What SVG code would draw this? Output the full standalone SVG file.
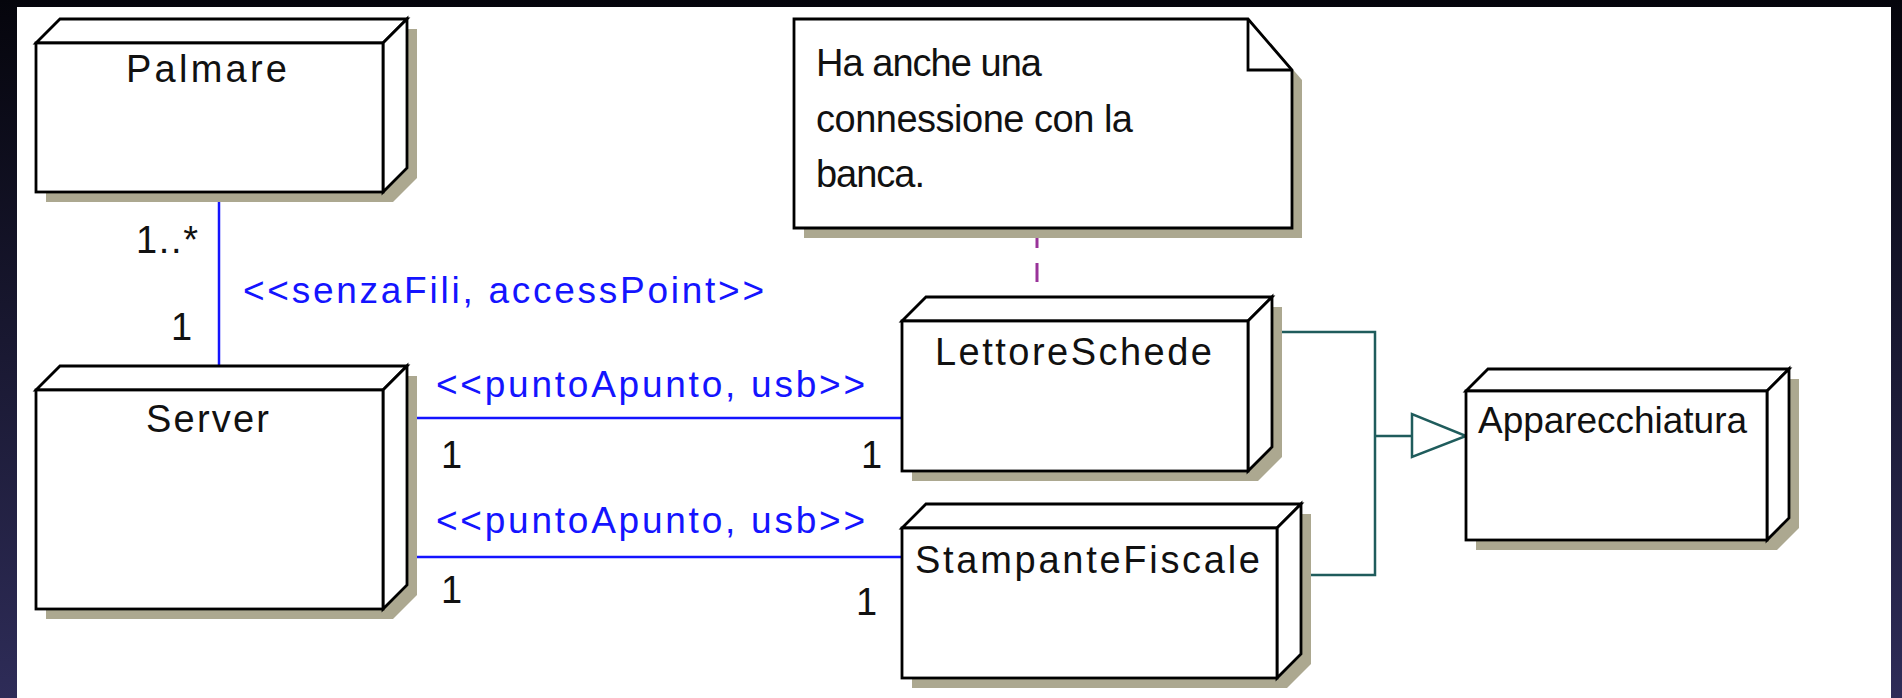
<svg xmlns="http://www.w3.org/2000/svg" width="1902" height="698" viewBox="0 0 1902 698">
<defs>
<linearGradient id="bg" x1="0" y1="0" x2="0" y2="1">
<stop offset="0" stop-color="#05050c"/>
<stop offset="1" stop-color="#2e2c58"/>
</linearGradient>
<style>
.shadow{fill:#aca890;stroke:none}
.face{fill:#ffffff;stroke:#000;stroke-width:2.8;stroke-linejoin:miter}
.name{font-family:"Liberation Sans",Arial,sans-serif;font-size:38px;fill:#111}
.lbl{font-family:"Liberation Sans",Arial,sans-serif;font-size:37px;fill:#1414ff}
.mult{font-family:"Liberation Sans",Arial,sans-serif;font-size:38px;fill:#111}
.assoc{stroke:#1414ff;stroke-width:2.5;fill:none}
.gen{stroke:#1f5c5c;stroke-width:2.5;fill:none}
.anchor{stroke:#993399;stroke-width:3;stroke-dasharray:19 15;fill:none}
</style>
</defs>
<rect x="0" y="0" width="1902" height="698" fill="url(#bg)"/>
<rect x="17" y="7" width="1874" height="691" fill="#ffffff"/>

<g id="connectors">
<line class="assoc" x1="219" y1="192" x2="219" y2="366"/>
<line class="assoc" x1="407" y1="418" x2="902" y2="418"/>
<line class="assoc" x1="407" y1="557" x2="902" y2="557"/>
<path class="gen" d="M1272,332 H1375 V575 H1301"/>
<path class="gen" d="M1375,436 H1412"/>
<polygon class="gen" points="1412,414 1412,457 1466,436" style="fill:#fff"/>
<line class="anchor" x1="1037" y1="229" x2="1037" y2="297"/>
<text class="mult" x="136" y="253" textLength="62" lengthAdjust="spacing">1..*</text>
<text class="mult" x="171" y="340">1</text>
<text class="lbl" x="243" y="303" textLength="521" lengthAdjust="spacing">&lt;&lt;senzaFili, accessPoint&gt;&gt;</text>
<text class="lbl" x="436" y="397" textLength="429" lengthAdjust="spacing">&lt;&lt;puntoApunto, usb&gt;&gt;</text>
<text class="mult" x="441" y="468">1</text>
<text class="mult" x="861" y="468">1</text>
<text class="lbl" x="436" y="533" textLength="429" lengthAdjust="spacing">&lt;&lt;puntoApunto, usb&gt;&gt;</text>
<text class="mult" x="441" y="603">1</text>
<text class="mult" x="856" y="615">1</text>
</g>

<g id="node-palmare">
<polygon class="shadow" points="46,53 70,29 417,29 417,178 393,202 46,202"/>
<polygon class="face" points="36,43 60,19 407,19 383,43"/>
<polygon class="face" points="383,43 407,19 407,168 383,192"/>
<rect class="face" x="36" y="43" width="347" height="149"/>
<text class="name" x="126" y="82" textLength="161" lengthAdjust="spacing">Palmare</text>
</g>

<g id="node-server">
<polygon class="shadow" points="46,400 70,376 417,376 417,595 393,619 46,619"/>
<polygon class="face" points="36,390 60,366 407,366 383,390"/>
<polygon class="face" points="383,390 407,366 407,585 383,609"/>
<rect class="face" x="36" y="390" width="347" height="219"/>
<text class="name" x="146" y="432" textLength="123" lengthAdjust="spacing">Server</text>
</g>

<g id="node-lettore">
<polygon class="shadow" points="912,331 936,307 1282,307 1282,457 1258,481 912,481"/>
<polygon class="face" points="902,321 926,297 1272,297 1248,321"/>
<polygon class="face" points="1248,321 1272,297 1272,447 1248,471"/>
<rect class="face" x="902" y="321" width="346" height="150"/>
<text class="name" x="935" y="365" textLength="277" lengthAdjust="spacing">LettoreSchede</text>
</g>

<g id="node-stampante">
<polygon class="shadow" points="912,538 936,514 1311,514 1311,664 1287,688 912,688"/>
<polygon class="face" points="902,528 926,504 1301,504 1277,528"/>
<polygon class="face" points="1277,528 1301,504 1301,654 1277,678"/>
<rect class="face" x="902" y="528" width="375" height="150"/>
<text class="name" x="915" y="573" textLength="345" lengthAdjust="spacing">StampanteFiscale</text>
</g>

<g id="node-apparecchiatura">
<polygon class="shadow" points="1476,401 1498,379 1799,379 1799,528 1777,550 1476,550"/>
<polygon class="face" points="1466,391 1488,369 1789,369 1767,391"/>
<polygon class="face" points="1767,391 1789,369 1789,518 1767,540"/>
<rect class="face" x="1466" y="391" width="301" height="149"/>
<text class="name" x="1478" y="433" style="font-size:37px" textLength="269" lengthAdjust="spacing">Apparecchiatura</text>
</g>

<g id="note">
<polygon class="shadow" points="804,29 1258,29 1302,80 1302,238 804,238"/>
<polygon class="face" points="794,19 1248,19 1292,70 1292,228 794,228"/>
<polyline class="face" points="1248,19 1248,70 1292,70" style="fill:none"/>
<text class="name" x="816" y="76" textLength="226" lengthAdjust="spacing">Ha anche una</text>
<text class="name" x="816" y="132" textLength="317" lengthAdjust="spacing">connessione con la</text>
<text class="name" x="816" y="187" textLength="109" lengthAdjust="spacing">banca.</text>
</g>
</svg>
